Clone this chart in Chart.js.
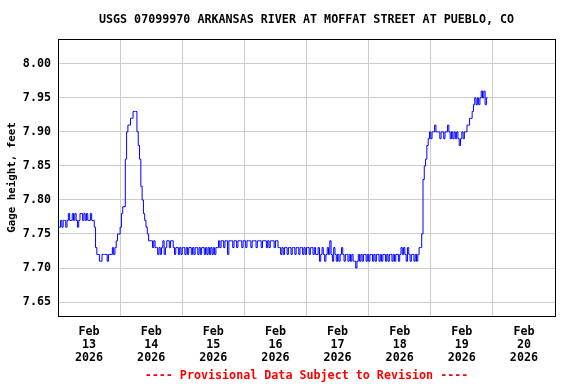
<!DOCTYPE html>
<html>
<head>
<meta charset="utf-8">
<script src="https://cdn.jsdelivr.net/npm/chart.js@4"></script>
<style>
  html, body { margin: 0; padding: 0; background: #fff; }
</style>
</head>
<body>
<canvas id="myChart" width="576" height="384"></canvas>
<script>
const chartTitle = 'USGS 07099970 ARKANSAS RIVER AT MOFFAT STREET AT PUEBLO, CO';
const yAxisTitle = 'Gage height, feet';
const footerText = '---- Provisional Data Subject to Revision ----';

// x axis: hours after Feb 13 00:00, one label per day
const monthLabel = 'Feb';
const yearLabel = '2026';
const dayLabels = ['13', '14', '15', '16', '17', '18', '19', '20'];

// readings every half hour (feet)
const intervalHours = 0.5;
const gageHeight = [
    7.76, 7.76, 7.77, 7.76, 7.77, 7.77, 7.76, 7.77, 7.78, 7.77,
    7.77, 7.78, 7.77, 7.78, 7.77, 7.76, 7.77, 7.78, 7.78, 7.77,
    7.78, 7.77, 7.78, 7.77, 7.77, 7.78, 7.77, 7.77,
    7.76, 7.73, 7.72, 7.72, 7.71, 7.71, 7.72, 7.72, 7.72, 7.72,
    7.71, 7.72, 7.72, 7.72, 7.73, 7.72, 7.73, 7.74, 7.75, 7.75,
    7.76, 7.78, 7.79, 7.79, 7.86, 7.90, 7.91, 7.91, 7.92, 7.92,
    7.93, 7.93, 7.93, 7.90, 7.88, 7.86, 7.82, 7.80, 7.78, 7.77,
    7.76, 7.75, 7.74, 7.74,
    7.74, 7.73, 7.74, 7.73, 7.73, 7.72, 7.73, 7.72, 7.73, 7.74,
    7.72, 7.73, 7.74, 7.74, 7.73, 7.74, 7.74,
    7.73, 7.72, 7.73, 7.73, 7.72, 7.73, 7.72, 7.73, 7.73, 7.72,
    7.73, 7.72, 7.73, 7.73, 7.72, 7.73, 7.72, 7.73, 7.73, 7.72,
    7.73, 7.72, 7.73, 7.73, 7.72, 7.73, 7.72, 7.73, 7.72, 7.73,
    7.72, 7.73, 7.72, 7.73, 7.73,
    7.74, 7.73, 7.74, 7.74, 7.73, 7.74, 7.74, 7.72, 7.74, 7.74,
    7.74, 7.73, 7.74, 7.74, 7.73, 7.74, 7.74, 7.74, 7.73, 7.74,
    7.74, 7.73, 7.74, 7.74, 7.74, 7.73, 7.74, 7.74, 7.74, 7.73,
    7.74, 7.74, 7.74, 7.73, 7.74, 7.74, 7.74, 7.73, 7.74, 7.73,
    7.74, 7.74, 7.74, 7.73, 7.74, 7.74, 7.73,
    7.73, 7.72, 7.73, 7.72, 7.73, 7.73, 7.72, 7.73, 7.73, 7.72,
    7.73, 7.73, 7.72, 7.73, 7.73, 7.72, 7.73, 7.73, 7.72, 7.73,
    7.72, 7.73, 7.73, 7.72, 7.73, 7.73, 7.72, 7.73, 7.72,
    7.72, 7.73, 7.71, 7.72, 7.73, 7.72, 7.71, 7.72, 7.73, 7.72,
    7.74, 7.72, 7.71, 7.73, 7.72,
    7.71, 7.72, 7.71, 7.72, 7.73,
    7.72, 7.71, 7.72, 7.72, 7.71, 7.72, 7.71, 7.72,
    7.71, 7.71, 7.70, 7.71,
    7.72, 7.71, 7.72, 7.71, 7.72, 7.72, 7.71, 7.72, 7.71, 7.72,
    7.72, 7.71, 7.72, 7.71, 7.72, 7.72, 7.71, 7.72, 7.71, 7.72,
    7.72, 7.71, 7.72, 7.71, 7.72, 7.72, 7.71, 7.72, 7.71, 7.72,
    7.72,
    7.71, 7.72, 7.73, 7.72, 7.73, 7.72, 7.71, 7.73, 7.72, 7.71,
    7.72, 7.72, 7.71, 7.72, 7.71, 7.72, 7.73,
    7.73, 7.75, 7.83, 7.85, 7.86, 7.88, 7.89,
    7.90, 7.89, 7.90, 7.90, 7.91, 7.90, 7.90, 7.90, 7.89, 7.90,
    7.90, 7.89, 7.90, 7.90, 7.91, 7.90, 7.89, 7.90, 7.89, 7.90,
    7.89, 7.90, 7.89, 7.88, 7.89, 7.90, 7.89, 7.90, 7.90, 7.91,
    7.91, 7.92, 7.92, 7.93, 7.94, 7.95, 7.94, 7.95, 7.94, 7.95,
    7.96, 7.95, 7.96, 7.94, 7.95, 7.95
];

const monoFont = '"DejaVu Sans Mono", "Liberation Mono", monospace';

// title, footer, y title and the black frame, centred on the plot area
const framePlugin = {
    id: 'frame',
    afterDraw(chart) {
        const ctx = chart.ctx;
        const a = chart.chartArea;
        const cx = (a.left + a.right) / 2;
        ctx.save();
        ctx.strokeStyle = '#000';
        ctx.lineWidth = 1;
        ctx.strokeRect(Math.round(a.left) + 0.5, Math.round(a.top) + 0.5,
            Math.round(a.right - a.left), Math.round(a.bottom - a.top));

        ctx.fillStyle = '#000';
        ctx.textAlign = 'center';
        ctx.textBaseline = 'middle';
        ctx.font = 'bold 11.7px ' + monoFont;
        ctx.fillText(chartTitle, cx, 19.5);

        ctx.fillStyle = '#ff0000';
        ctx.font = 'bold 11.7px ' + monoFont;
        ctx.fillText(footerText, cx, 376);

        ctx.fillStyle = '#000';
        ctx.font = 'bold 10.8px ' + monoFont;
        ctx.translate(12, (a.top + a.bottom) / 2);
        ctx.rotate(-Math.PI / 2);
        ctx.fillText(yAxisTitle, 0, 0);
        ctx.restore();
    }
};

const points = gageHeight.map((v, i) => ({ x: i * intervalHours, y: v }));

new Chart(document.getElementById('myChart').getContext('2d'), {
    type: 'line',
    data: {
        datasets: [{
            label: 'Gage height',
            data: points,
            borderColor: '#0000ff',
            borderWidth: 1,
            pointRadius: 0,
            stepped: true,
            fill: false
        }]
    },
    options: {
        responsive: false,
        animation: false,
        devicePixelRatio: 1,
        layout: { padding: { left: 0, top: 39, right: 21, bottom: 0 } },
        plugins: {
            legend: { display: false },
            tooltip: { enabled: false }
        },
        scales: {
            x: {
                type: 'linear',
                min: 0,
                max: dayLabels.length * 24,
                afterFit: s => { s.height = 68; },
                border: { display: false },
                grid: {
                    drawTicks: false,
                    lineWidth: 1,
                    color: c => (c.tick && c.tick.value % 24 === 0) ? '#cccccc' : 'rgba(0,0,0,0)'
                },
                ticks: {
                    stepSize: 12,
                    autoSkip: false,
                    maxRotation: 0,
                    padding: 9,
                    color: '#000',
                    font: { family: monoFont, size: 11.7, weight: 'bold', lineHeight: 13 / 11.7 },
                    callback: v => (v % 24 === 12) ? [monthLabel, dayLabels[(v - 12) / 24], yearLabel] : ''
                }
            },
            y: {
                min: 7.6295,
                max: 8.0365,
                afterFit: s => { s.width = 58; },
                border: { display: false },
                grid: { drawTicks: false, color: '#cccccc', lineWidth: 1 },
                ticks: {
                    stepSize: 0.05,
                    includeBounds: false,
                    padding: 7,
                    color: '#000',
                    font: { family: monoFont, size: 11.7, weight: 'bold' },
                    callback: v => v.toFixed(2)
                }
            }
        }
    },
    plugins: [framePlugin]
});
</script>
</body>
</html>
